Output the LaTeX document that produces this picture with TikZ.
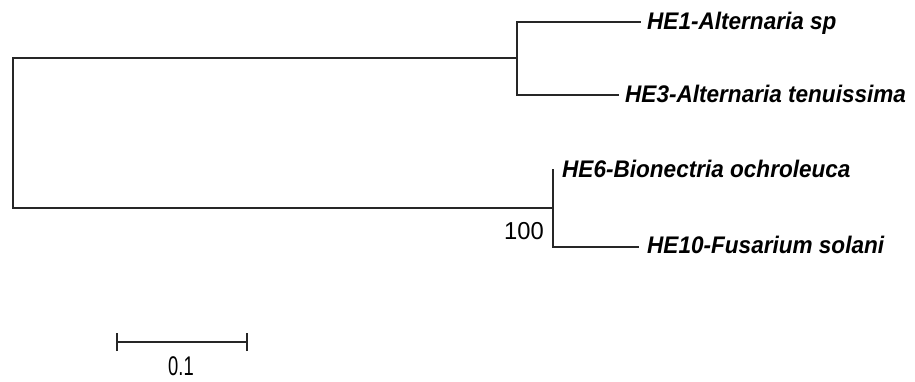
\documentclass[tikz,border=0pt]{standalone}
\usepackage{fontspec}
\setmainfont{Liberation Sans}
\newcommand{\narrowtext}[2]{\scalebox{#1}[1]{#2}}
\begin{document}
\begin{tikzpicture}[x=1pt,y=-1pt,
  branch/.style={line width=2pt,draw=black!85,line cap=rect},
  taxon/.style={anchor=base west,inner sep=0pt,font=\fontsize{24}{26}\selectfont\bfseries\itshape},
  support/.style={anchor=base east,inner sep=0pt,font=\fontsize{24.5}{26}\selectfont},
  scalelbl/.style={anchor=base,inner sep=0pt,font=\fontsize{27}{29}\selectfont}]
\useasboundingbox (0,0) rectangle (915,381);
% internal nodes
\coordinate (rtop) at (13,58);
\coordinate (rbot) at (13,208);
\coordinate (na) at (517,58);
\coordinate (nat) at (517,22);
\coordinate (nab) at (517,95);
\coordinate (nb) at (553,208);
\coordinate (nbt) at (553,170);
\coordinate (nbb) at (553,247);
% leaf ends
\coordinate (l1) at (640,22);
\coordinate (l3) at (618,95);
\coordinate (l10) at (638,247);
% labels
\node[taxon] (t1) at (647,29) {\narrowtext{0.94}{HE1-Alternaria sp}};
\node[taxon] (t3) at (625,102) {\narrowtext{0.94}{HE3-Alternaria tenuissima}};
\node[taxon] (t6) at (562,177) {\narrowtext{0.94}{HE6-Bionectria ochroleuca}};
\node[taxon] (t10) at (647,253) {\narrowtext{0.94}{HE10-Fusarium solani}};
\node[support] (bs) at (544,239) {\narrowtext{0.97}{100}};
% tree
\draw[branch] (rtop) -- (rbot);
\draw[branch] (rtop) -- (na);
\draw[branch] (rbot) -- (nb);
\draw[branch] (nat) -- (nab);
\draw[branch] (nat) -- (l1);
\draw[branch] (nab) -- (l3);
\draw[branch] (nbt) -- (nbb);
\draw[branch] (nbb) -- (l10);
% scale bar
\coordinate (s0) at (117,342);
\coordinate (s1) at (247,342);
\draw[branch,line cap=butt] (s0) -- (s1);
\draw[branch,line cap=butt] ([yshift=-9pt]s0) -- ([yshift=9pt]s0);
\draw[branch,line cap=butt] ([yshift=-9pt]s1) -- ([yshift=9pt]s1);
\node[scalelbl] (sl) at (181,375) {\narrowtext{0.68}{0.1}};
\end{tikzpicture}
\end{document}
